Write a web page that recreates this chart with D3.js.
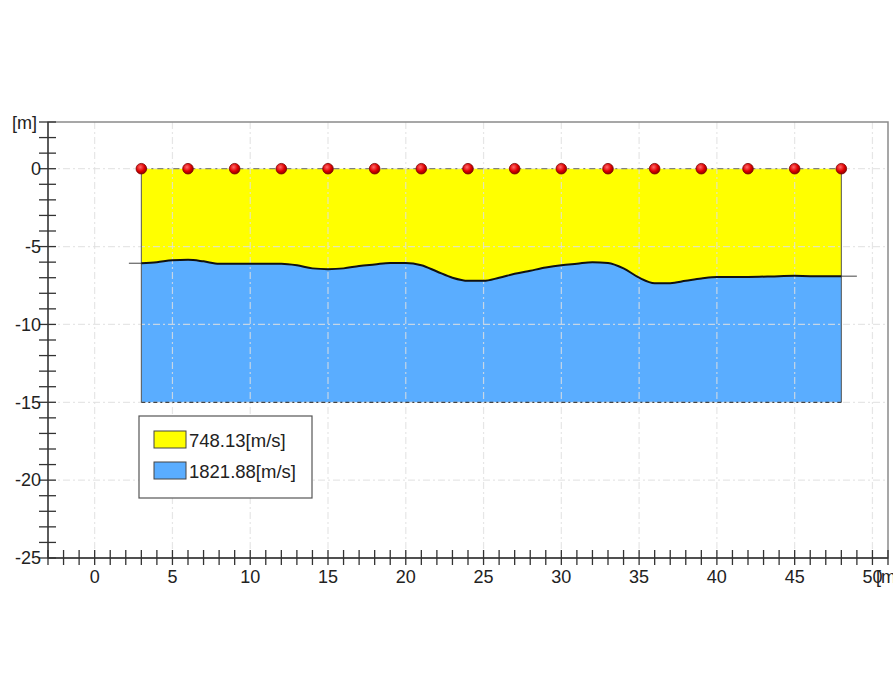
<!DOCTYPE html>
<html>
<head>
<meta charset="utf-8">
<script src="https://cdn.jsdelivr.net/npm/d3@7"></script>
<style>
  body { margin: 0; background: #fff; }
  svg { display: block; }
  text { font-family: "Liberation Sans", Arial, sans-serif; fill: #222; }
</style>
</head>
<body>
<svg id="chart" width="893" height="677"></svg>
<script>

// geophone positions along the surface [m]
var geophones = [3, 6, 9, 12, 15, 18, 21, 24, 27, 30, 33, 36, 39, 42, 45, 48];

// layer boundary, distance [m]
var boundary_x = [3, 4, 5, 6, 7, 8, 10, 12, 13, 14, 15, 16, 17, 18, 19, 20, 21, 22, 23, 24, 25,
                  26, 27, 28, 29, 30, 31, 32, 33, 34, 35, 36, 37, 38, 39, 40, 42, 44, 45, 46, 48];
// layer boundary, elevation [m]
var boundary_y = [-6.07, -6.0, -5.88, -5.85, -5.95, -6.1, -6.1, -6.1, -6.2, -6.4, -6.45, -6.4, -6.25, -6.15, -6.05, -6.05, -6.2, -6.6, -7.0, -7.2, -7.2,
                  -7.0, -6.75, -6.55, -6.35, -6.2, -6.1, -6.0, -6.05, -6.4, -7.0, -7.35, -7.35, -7.2, -7.05, -6.95, -6.95, -6.9, -6.88, -6.9, -6.9];

var model_top = 0, model_bottom = -15, model_left = 3, model_right = 48;
var boundary_ext = [2.2, 49];   // thin extension of the boundary past the model

var layer_names  = ['748.13[m/s]', '1821.88[m/s]'];
var layer_colors = ['#ffff00', '#5aadff'];

var x_labels = [0, 5, 10, 15, 20, 25, 30, 35, 40, 45, 50];
var y_labels = [0, -5, -10, -15, -20, -25];

function draw_section(){

    var svg = d3.select("#chart");
    var x = d3.scaleLinear().domain([-3, 51]).range([48, 888]);
    var y = d3.scaleLinear().domain([-25, 3]).range([558, 122]);

    var pts = boundary_x.map(function(v, i){ return [v, boundary_y[i]]; });

    // top layer (yellow)
    var upper = d3.area()
        .x(function(d){ return x(d[0]); })
        .y0(y(model_top))
        .y1(function(d){ return y(d[1]); })
        .curve(d3.curveMonotoneX);
    svg.append("path").datum(pts).attr("d", upper).attr("fill", layer_colors[0]);

    // bottom layer (blue)
    var lower = d3.area()
        .x(function(d){ return x(d[0]); })
        .y0(y(model_bottom))
        .y1(function(d){ return y(d[1]); })
        .curve(d3.curveMonotoneX);
    svg.append("path").datum(pts).attr("d", lower).attr("fill", layer_colors[1]);

    // grid, dash-dot, drawn over the layers
    var grid = svg.append("g")
        .attr("stroke", "#e0e0e0")
        .attr("stroke-opacity", 0.8)
        .attr("stroke-width", 1.2)
        .attr("stroke-dasharray", "7,3,2,3");
    grid.selectAll(".gx").data(x_labels).enter().append("line")
        .attr("x1", function(d){ return x(d); }).attr("x2", function(d){ return x(d); })
        .attr("y1", y(3)).attr("y2", y(-25));
    grid.selectAll(".gy").data(y_labels.slice(0, 5)).enter().append("line")
        .attr("y1", function(d){ return y(d); }).attr("y2", function(d){ return y(d); })
        .attr("x1", x(-3)).attr("x2", x(51));

    // model sides
    svg.append("g").attr("stroke", "#555").attr("stroke-width", 1)
        .selectAll("line").data([model_left, model_right]).enter().append("line")
        .attr("x1", function(d){ return x(d); }).attr("x2", function(d){ return x(d); })
        .attr("y1", y(model_top)).attr("y2", y(model_bottom));

    // dashed top and bottom edges
    svg.append("line")
        .attr("x1", x(model_left)).attr("x2", x(model_right))
        .attr("y1", y(model_bottom)).attr("y2", y(model_bottom))
        .attr("stroke", "#444").attr("stroke-width", 1.2).attr("stroke-dasharray", "4,3,2,3");
    svg.append("line")
        .attr("x1", x(model_left)).attr("x2", x(model_right))
        .attr("y1", y(model_top)).attr("y2", y(model_top))
        .attr("stroke", "#666").attr("stroke-width", 1).attr("stroke-dasharray", "6,4,2,4");

    // boundary extensions
    svg.append("line")
        .attr("x1", x(boundary_ext[0])).attr("x2", x(model_left))
        .attr("y1", y(boundary_y[0])).attr("y2", y(boundary_y[0]))
        .attr("stroke", "#444").attr("stroke-width", 1);
    svg.append("line")
        .attr("x1", x(model_right)).attr("x2", x(boundary_ext[1]))
        .attr("y1", y(boundary_y[boundary_y.length-1])).attr("y2", y(boundary_y[boundary_y.length-1]))
        .attr("stroke", "#444").attr("stroke-width", 1);

    // boundary
    var line = d3.line()
        .x(function(d){ return x(d[0]); })
        .y(function(d){ return y(d[1]); })
        .curve(d3.curveMonotoneX);
    svg.append("path").datum(pts).attr("d", line)
        .attr("fill", "none").attr("stroke", "#111").attr("stroke-width", 2);

    // geophones
    var defs = svg.append("defs");
    var grad = defs.append("radialGradient").attr("id", "geo").attr("cx", "40%").attr("cy", "35%").attr("r", "65%");
    grad.append("stop").attr("offset", "0%").attr("stop-color", "#ff6a6a");
    grad.append("stop").attr("offset", "60%").attr("stop-color", "#e00000");
    grad.append("stop").attr("offset", "100%").attr("stop-color", "#900000");
    svg.selectAll(".geo").data(geophones).enter().append("circle")
        .attr("cx", function(d){ return x(d); })
        .attr("cy", y(0))
        .attr("r", 5.3)
        .attr("fill", "url(#geo)")
        .attr("stroke", "#7a0000").attr("stroke-width", 0.8);

    // frame
    svg.append("rect")
        .attr("x", x(-3)).attr("y", y(3))
        .attr("width", x(51) - x(-3)).attr("height", y(-25) - y(3))
        .attr("fill", "none").attr("stroke", "#8a8a8a").attr("stroke-width", 1.5);

    // axes with crossing ticks
    var xt = d3.range(-3, 52, 1);
    var yt = d3.range(-25, 4, 1);
    var ax = svg.append("g").attr("stroke", "#333").attr("stroke-width", 1.3);
    ax.append("line").attr("x1", x(-3)).attr("x2", x(51)).attr("y1", y(-25)).attr("y2", y(-25));
    ax.append("line").attr("x1", x(-3)).attr("x2", x(-3)).attr("y1", y(3)).attr("y2", y(-25));
    ax.selectAll(".tx").data(xt).enter().append("line")
        .attr("x1", function(d){ return x(d); }).attr("x2", function(d){ return x(d); })
        .attr("y1", y(-25) - 8).attr("y2", y(-25) + 7);
    ax.selectAll(".ty").data(yt).enter().append("line")
        .attr("y1", function(d){ return y(d); }).attr("y2", function(d){ return y(d); })
        .attr("x1", x(-3) - 9).attr("x2", x(-3) + 8);

    svg.selectAll(".lx").data(x_labels).enter().append("text")
        .attr("x", function(d){ return x(d); })
        .attr("y", 583)
        .attr("text-anchor", "middle")
        .style("font-size", "18px")
        .text(function(d){ return d; });
    svg.selectAll(".ly").data(y_labels).enter().append("text")
        .attr("x", 41)
        .attr("y", function(d){ return y(d); })
        .attr("dy", ".35em")
        .attr("text-anchor", "end")
        .style("font-size", "18px")
        .text(function(d){ return d; });

    svg.append("text").attr("x", 12).attr("y", 129).style("font-size", "18px").text("[m]");
    svg.append("text").attr("x", 876).attr("y", 583).style("font-size", "18px").text("[m]");

    // legend
    var lg = svg.append("g");
    lg.append("rect").attr("x", 139).attr("y", 416).attr("width", 173).attr("height", 82)
        .attr("fill", "#fff").attr("stroke", "#555").attr("stroke-width", 1.2);
    layer_names.forEach(function(name, i){
        lg.append("rect").attr("x", 154).attr("y", 431 + 31 * i).attr("width", 32).attr("height", 17)
            .attr("fill", layer_colors[i]).attr("stroke", "#444").attr("stroke-width", 1);
        lg.append("text").attr("x", 189).attr("y", 446.5 + 31 * i)
            .style("font-size", "18.5px")
            .text(name);
    });
}

draw_section();
</script>
</body>
</html>
